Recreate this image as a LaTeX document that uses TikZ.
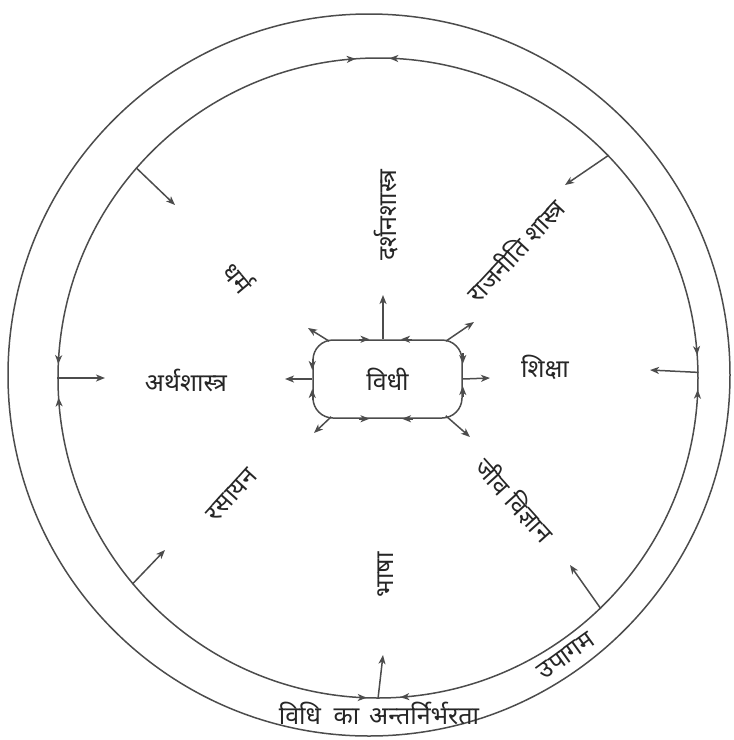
\documentclass[tikz,border=0pt]{standalone}
\usepackage{fontspec}
\newfontfamily\deva[Script=Devanagari]{Noto Sans}
\usetikzlibrary{arrows.meta,decorations.markings,calc}
\begin{document}
\begin{tikzpicture}[x=1pt,y=-1pt,
  ln/.style={draw=black!70, line width=1.5pt},
  arr/.style={ln, -{Stealth[length=9pt,width=7pt,inset=2.5pt]}},
  lbl/.style={font=\deva\fontsize{25}{30}\selectfont, text=black!85, inner sep=0pt},
  circmarks/.style={postaction={decorate}, decoration={markings,
    mark=at position 0.0114 with {\arrowreversed{Stealth[length=9pt,width=7pt,inset=2.5pt]}},
    mark=at position 0.2444 with {\arrow{Stealth[length=9pt,width=7pt,inset=2.5pt]}},
    mark=at position 0.2611 with {\arrowreversed{Stealth[length=9pt,width=7pt,inset=2.5pt]}},
    mark=at position 0.4931 with {\arrow{Stealth[length=9pt,width=7pt,inset=2.5pt]}},
    mark=at position 0.5097 with {\arrowreversed{Stealth[length=9pt,width=7pt,inset=2.5pt]}},
    mark=at position 0.7444 with {\arrow{Stealth[length=9pt,width=7pt,inset=2.5pt]}},
    mark=at position 0.7611 with {\arrowreversed{Stealth[length=9pt,width=7pt,inset=2.5pt]}},
    mark=at position 0.9942 with {\arrow{Stealth[length=9pt,width=7pt,inset=2.5pt]}}}}
]
\useasboundingbox (0,0) rectangle (734,740);

% circles
\node[circle, ln, minimum size=722pt, inner sep=0pt] (oc) at (369,375) {};
\node[circle, ln, minimum size=640pt, inner sep=0pt, circmarks] (ic) at (378,378) {};

% radial arrows from inner circle
\coordinate (eUL) at (175,205);
\coordinate (eUR) at (565,185);
\coordinate (eL) at (105,378);
\coordinate (eR) at (650,370);
\coordinate (eB) at (383,655);
\coordinate (eLL) at (165,550);
\coordinate (eLR) at (570,565);
\draw[arr] (ic.139.4) -- (eUL);
\draw[arr] (ic.44) -- (eUR);
\draw[arr] (ic.180) -- (eL);
\draw[arr] (ic.1.4) -- (eR);
\draw[arr] (ic.270.9) -- (eB);
\draw[arr] (ic.220) -- (eLL);
\draw[arr] (ic.314.6) -- (eLR);

% central box
\node[ln, rounded corners=20pt, minimum width=149pt, minimum height=78pt, lbl] (vd) at (387.5,379) {विधी};

% arrows along box edges
\draw[arr] ($(vd.north)+(-29,0)$) -- ($(vd.north)+(-18,0)$);
\draw[arr] ($(vd.north)+(24,0)$) -- ($(vd.north)+(13.5,0)$);
\draw[arr] ($(vd.south)+(-29,0)$) -- ($(vd.south)+(-18,0)$);
\draw[arr] ($(vd.south)+(25,0)$) -- ($(vd.south)+(14.5,0)$);
\draw[arr] ($(vd.west)+(0,-20)$) -- ($(vd.west)+(0,-9)$);
\draw[arr] ($(vd.west)+(0,21)$) -- ($(vd.west)+(0,10)$);
\draw[arr] ($(vd.east)+(0,-26)$) -- ($(vd.east)+(0,-15)$);
\draw[arr] ($(vd.east)+(0,18)$) -- ($(vd.east)+(0,7)$);

% outward arrows from box
\coordinate (oT) at (383,295);
\coordinate (oL) at (285,379);
\coordinate (oR) at (490,378);
\coordinate (oTL) at (308,328);
\coordinate (oTR) at (474,322);
\coordinate (oBL) at (314,433);
\coordinate (oBR) at (470,437);
\draw[arr] ($(vd.north)+(-4.5,0)$) -- (oT);
\draw[arr] (vd.west) -- (oL);
\draw[arr] (vd.east) -- (oR);
\draw[arr] ($(vd.north west)+(17,2)$) -- (oTL);
\draw[arr] ($(vd.north east)+(-17,2)$) -- (oTR);
\draw[arr] ($(vd.south west)+(19,-2)$) -- (oBL);
\draw[arr] ($(vd.south east)+(-17,-3)$) -- (oBR);

% labels
\node[lbl, rotate=90] (darshan) at (386,215) {दर्शनशास्त्र};
\node[lbl, rotate=47] (rajniti) at (515,250) {राजनीति शास्त्र};
\node[lbl, rotate=-50] (dharm) at (239,277) {धर्म};
\node[lbl] (artha) at (186,380) {अर्थशास्त्र};
\node[lbl] (shiksha) at (545,367) {शिक्षा};
\node[lbl, rotate=48] (rasayan) at (232,495) {रसायन};
\node[lbl, rotate=-48] (jeev) at (515,500) {जीव विज्ञान};
\node[lbl, rotate=90] (bhasha) at (386,575) {भाषा};
\node[lbl, rotate=36] (upagam) at (566,656) {उपागम};
\node[lbl] (antar) at (379,713) {विधि\hspace{0.5em}का\hspace{0.4em}अन्तर्निर्भरता};
\end{tikzpicture}
\end{document}
